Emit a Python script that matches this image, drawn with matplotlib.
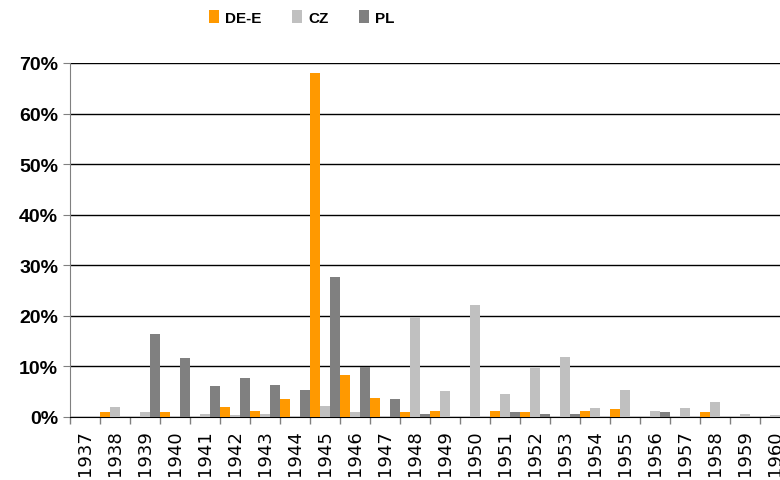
import numpy as np
import matplotlib.pyplot as plt
from matplotlib.ticker import PercentFormatter

years = [str(y) for y in range(1937, 1961)]
de_e = [0, 1.0, 0, 1.0, 0, 2.0, 1.2, 3.6, 68.0, 8.4, 3.8, 1.0,
        1.2, 0, 1.2, 1.0, 0, 1.2, 1.6, 0, 0, 1.0, 0, 0]
cz = [0, 2.0, 1.0, 0, 0.6, 0.4, 0.6, 0.2, 2.2, 1.0, 0, 19.8,
      5.2, 22.2, 4.6, 9.6, 11.9, 1.8, 5.3, 1.2, 1.8, 3.0, 0.6, 0.4]
pl = [0, 0, 16.5, 11.6, 6.2, 7.8, 6.4, 5.4, 27.6, 9.8, 3.6, 0.6,
      0, 0, 1.0, 0.6, 0.6, 0, 0, 1.0, 0, 0, 0, 0]

series = [("DE-E", de_e, "#FF9900"), ("CZ", cz, "#C0C0C0"), ("PL", pl, "#808080")]

plt.rcParams['font.family'] = ['Liberation Sans', 'DejaVu Sans']

fig = plt.figure(figsize=(7.8, 4.81), dpi=100)
ax = fig.add_axes([70 / 780, 63 / 481, 720 / 780, 354 / 481])

x = np.arange(len(years))
w = 1 / 3
for i, (name, vals, col) in enumerate(series):
    ax.bar(x - 0.5 + w * (i + 0.5), vals, width=w, color=col, label=name, zorder=3)

ax.set_xlim(-0.5, len(years) - 0.5)
ax.set_ylim(0, 70)
ax.set_yticks(range(0, 71, 10))
ax.yaxis.set_major_formatter(PercentFormatter(decimals=0))
ax.grid(axis="y", color="black", linewidth=1, zorder=0)

ax.set_xticks(x)
ax.set_xticklabels(years, rotation=90, fontsize=13, family="DejaVu Sans")
ax.set_xticks(np.arange(len(years) + 1) - 0.5, minor=True)
ax.tick_params(axis="x", which="major", length=0, pad=9)
ax.tick_params(axis="x", which="minor", length=5, color="#808080", width=1)
ax.tick_params(axis="y", length=5, color="#808080", labelsize=14)
for lbl in ax.get_yticklabels():
    lbl.set_fontweight("bold")

for s in ["top", "right"]:
    ax.spines[s].set_visible(False)
ax.spines["left"].set_color("#808080")
ax.spines["bottom"].set_color("black")

fig.legend(loc="center", bbox_to_anchor=(0.387, 0.962), ncol=3, frameon=False,
           prop={"weight": "bold", "size": 11}, handlelength=0.65, handleheight=0.9,
           columnspacing=2.0, handletextpad=0.4)

fig.savefig("out.png", dpi=100)
